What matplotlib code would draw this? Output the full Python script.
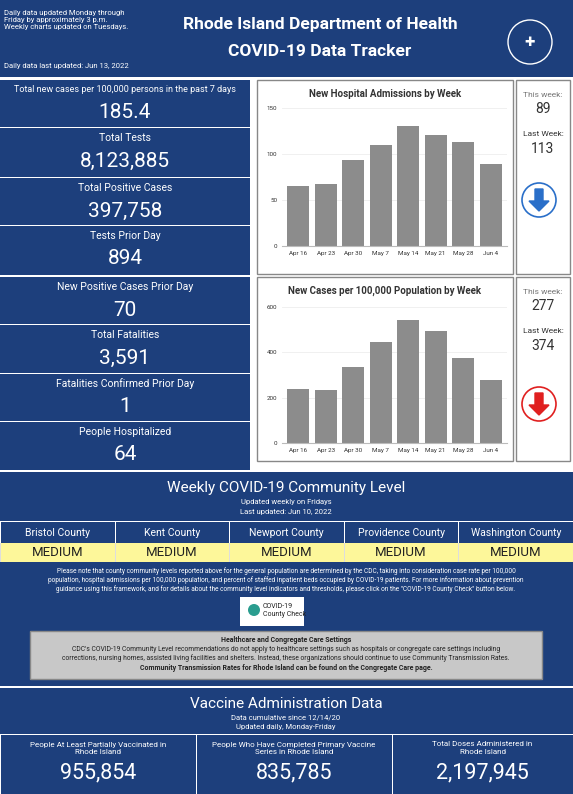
import matplotlib
matplotlib.use("Agg")
import matplotlib.pyplot as plt
from matplotlib.patches import Rectangle, Ellipse, FancyArrow

weeks = ["Apr 16", "Apr 23", "Apr 30", "May 7", "May 14", "May 21", "May 28", "Jun 4"]
hosp_adm = [65, 67, 93, 110, 130, 121, 113, 89]
cases_per100k = [237, 232, 337, 447, 541, 496, 374, 277]

left_labels = ["Total new cases per 100,000 persons in the past 7 days", "Total Tests",
               "Total Positive Cases", "Tests Prior Day", "New Positive Cases Prior Day",
               "Total Fatalities", "Fatalities Confirmed Prior Day", "People Hospitalized"]
left_values = ["185.4", "8,123,885", "397,758", "894", "70", "3,591", "1", "64"]
counties = ["Bristol County", "Kent County", "Newport County", "Providence County", "Washington County"]
levels = ["MEDIUM"] * 5
vax_labels = ["People At Least Partially Vaccinated in\nRhode Island",
              "People Who Have Completed Primary Vaccine\nSeries in Rhode Island",
              "Total Doses Administered in\nRhode Island"]
vax_values = ["955,854", "835,785", "2,197,945"]

W, H = 573, 794
BLUE = "#1d3f7c"
fig = plt.figure(figsize=(W/100, H/100), dpi=100)
fig.patch.set_facecolor("white")
plt.rcParams['font.family'] = ['Roboto', 'DejaVu Sans']

def box(x, y, w, h, fc, ec="none", lw=0):
    fig.patches.append(Rectangle((x/W, 1-(y+h)/H), w/W, h/H, transform=fig.transFigure,
                                 facecolor=fc, edgecolor=ec, linewidth=lw))

def circ(x, y, r, fc, ec="none", lw=0):
    fig.patches.append(Ellipse((x/W, 1-y/H), 2*r/W, 2*r/H, transform=fig.transFigure,
                               facecolor=fc, edgecolor=ec, linewidth=lw))

def txt(x, y, s, size, color="white", ha="center", weight="normal", **kw):
    fig.text(x/W, 1-y/H, s, fontsize=size, color=color, ha=ha, va="center", weight=weight, **kw)

# header
box(0, 0, W, 77, BLUE)
txt(4, 20, "Daily data updated Monday through\nFriday by approximately 3 p.m.\nWeekly charts updated on Tuesdays.", 5.5, ha="left")
txt(4, 66, "Daily data last updated: Jun 13, 2022", 5.5, ha="left")
txt(320, 25, "Rhode Island Department of Health", 12.5, weight="bold")
txt(320, 52, "COVID-19 Data Tracker", 12.5, weight="bold")
circ(530, 42, 22, "none", "white", 1)
txt(530, 42, "✚", 9)

# left boxes
tops = [80, 128, 178, 226, 277, 325, 374, 422]
hs = [47, 49, 47, 49, 47, 48, 47, 48]
for t, hh, lab, val in zip(tops, hs, left_labels, left_values):
    box(0, t, 250, hh, BLUE)
    txt(125, t + 10, lab, 6.5 if len(lab) > 40 else 7.5)
    txt(125, t + 33, val, 15)

# charts
def chart(y0, h, ay0, ay1, vals, title, ymax, yt):
    box(257, y0, 256, h, "white", "#888888", 1)
    ax = fig.add_axes([282/W, 1-ay1/H, 225/W, (ay1-ay0)/H])
    ax.set_zorder(5)
    ax.patch.set_alpha(0)
    ax.bar(range(len(vals)), vals, width=0.8, color="#8c8c8c")
    ax.set_ylim(0, ymax)
    ax.set_yticks(yt)
    ax.set_xticks(range(len(weeks)))
    ax.set_xticklabels(weeks)
    ax.tick_params(labelsize=4.5, length=0, colors="#333333")
    ax.set_xlim(-0.6, len(vals)-0.4)
    for s in ["top", "right", "left"]:
        ax.spines[s].set_visible(False)
    ax.spines["bottom"].set_color("#bbbbbb")
    ax.grid(axis="y", color="#eeeeee", linewidth=0.6)
    ax.set_axisbelow(True)
    txt(385, y0 + 14, title, 7, color="#333333", weight="bold")

chart(80, 194, 108, 246, hosp_adm, "New Hospital Admissions by Week", 150, [0, 50, 100, 150])
chart(277, 184, 307, 443, cases_per100k, "New Cases per 100,000 Population by Week", 600, [0, 200, 400, 600])

# right panels
for y0, h, tw, lw_, col in [(80, 194, "89", "113", "#2a6fc9"), (277, 184, "277", "374", "#e02020")]:
    box(516, y0, 54, h, "white", "#888888", 1)
    txt(543, y0 + 15, "This week:", 6, color="#777777")
    txt(543, y0 + 29, tw, 10, color="#333333")
    txt(543, y0 + 54, "Last Week:", 6, color="#333333")
    txt(543, y0 + 69, lw_, 10, color="#333333")
    cy = y0 + 120 if y0 == 80 else y0 + 127
    circ(539, cy, 17, "white", col, 1.2)
    fig.patches.append(FancyArrow(539/W, 1-(cy-11)/H, 0, -22/H, width=8/W, head_width=20/W,
                                  head_length=10/H, length_includes_head=True,
                                  transform=fig.transFigure, color=col))

# community level
box(0, 472, W, 214, BLUE)
txt(286, 488, "Weekly COVID-19 Community Level", 11)
txt(286, 502, "Updated weekly on Fridays", 5.5)
txt(286, 512, "Last updated: Jun 10, 2022", 5.5)
cw = W / 5
box(0, 543, W, 19, "#fdf79a")
for i, (c, l) in enumerate(zip(counties, levels)):
    box(i*cw, 522, 1, 21, "white")
    txt(i*cw + cw/2, 533, c, 7.5)
    txt(i*cw + cw/2, 553, l, 9.5, color="#222222")
    box(i*cw, 543, 1, 19, "#dddddd")
box(0, 521, W, 1, "white")
txt(286, 580, "Please note that county community levels reported above for the general population are determined by the CDC, taking into consideration case rate per 100,000\n"
    "population, hospital admissions per 100,000 population, and percent of staffed inpatient beds occupied by COVID-19 patients. For more information about prevention\n"
    "guidance using this framework, and for details about the community level indicators and thresholds, please click on the \"COVID-19 County Check\" button below.",
    4.7, linespacing=1.15)
box(240, 597, 64, 29, "white")
circ(254, 610, 6, "#2a9d8f")
txt(263, 611, "COVID-19\nCounty Check", 5, color="#222222", ha="left")
box(30, 631, 512, 48, "#c8c8c8", "#888888", 1)
txt(286, 640, "Healthcare and Congregate Care Settings", 5, color="#222222", weight="bold")
txt(286, 654, "CDC's COVID-19 Community Level recommendations do not apply to healthcare settings such as hospitals or congregate care settings including\n"
    "corrections, nursing homes, assisted living facilities and shelters. Instead, these organizations should continue to use Community Transmission Rates.",
    4.9, color="#222222", linespacing=1.15)
txt(286, 668, "Community Transmission Rates for Rhode Island can be found on the Congregate Care page.", 5,
    color="#222222", weight="bold")

# vaccine
box(0, 688, W, 106, BLUE)
txt(286, 704, "Vaccine Administration Data", 11)
txt(286, 717, "Data cumulative since 12/14/20", 5.5)
txt(286, 727, "Updated daily, Monday-Friday", 5.5)
box(0, 734, W, 1, "white")
xs = [0, 196, 392]
ws = [196, 196, 181]
for x, w_, lab, val in zip(xs, ws, vax_labels, vax_values):
    box(x, 734, 1, 60, "white")
    txt(x + w_/2, 748, lab, 5.8)
    txt(x + w_/2, 773, val, 15.5)

fig.savefig("out.png", dpi=100)
